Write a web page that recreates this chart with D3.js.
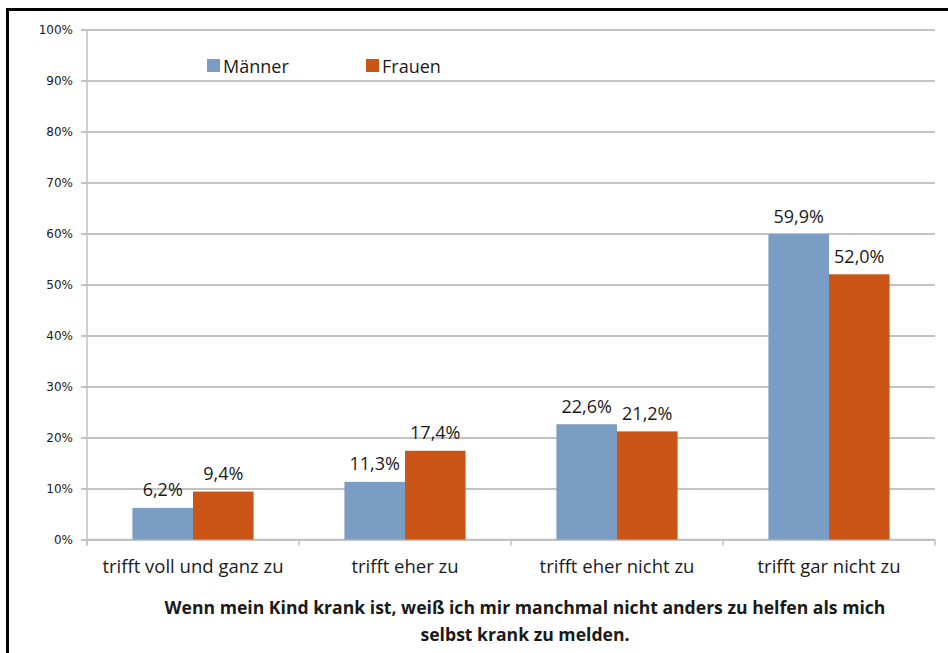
<!DOCTYPE html>
<html>
<head>
<meta charset="utf-8">
<script src="https://cdn.jsdelivr.net/npm/d3@7"></script>
<style>
  html, body { margin: 0; padding: 0; background: #fff; }
  svg { display: block; }
  text { fill: #1a1a1a; }
  .sans { font-family: "Open Sans", Lato, sans-serif; }
  .axis-lab { font-family: "DejaVu Sans", Verdana, sans-serif; }
</style>
</head>
<body>
<script>
// Answer categories and shares (percent) per group
const categories = ["trifft voll und ganz zu", "trifft eher zu", "trifft eher nicht zu", "trifft gar nicht zu"];
const series = ["Männer", "Frauen"];
const maenner = [6.2, 11.3, 22.6, 59.9];
const frauen = [9.4, 17.4, 21.2, 52.0];
const yTicks = [0, 10, 20, 30, 40, 50, 60, 70, 80, 90, 100];
const titleLines = [
  "Wenn mein Kind krank ist, weiß ich mir manchmal nicht anders zu helfen als mich",
  "selbst krank zu melden."
];
const colors = { "Männer": "#7b9cc3", "Frauen": "#cb5517" };

const W = 948, H = 653;
const plot = { left: 87, right: 935, top: 29.5, bottom: 539.5 };

const svg = d3.select("body").append("svg").attr("width", W).attr("height", H);

// Outer frame (right and bottom edges run past the page)
svg.append("rect")
  .attr("x", 7.5).attr("y", 9.5)
  .attr("width", 960).attr("height", 660)
  .attr("fill", "none").attr("stroke", "#000").attr("stroke-width", 3);

const x0 = d3.scaleBand().domain(categories).range([plot.left, plot.right]).paddingInner(0).paddingOuter(0);
const x1 = d3.scaleBand().domain(series).range([0, x0.bandwidth()]).paddingInner(0).paddingOuter(0.75);
const y = d3.scaleLinear().domain([0, 100]).range([plot.bottom, plot.top]);

// Horizontal gridlines with short tick marks left of the axis
const yAxis = d3.axisLeft(y).tickValues(yTicks).tickFormat(d => d + "%").tickSize(-(plot.right - plot.left)).tickPadding(14);
const gy = svg.append("g").attr("transform", `translate(${plot.left},0)`).call(yAxis);
gy.select(".domain").remove();
gy.selectAll(".tick line").attr("stroke", "#878787").attr("x1", -6);
gy.selectAll(".tick text")
  .attr("class", "axis-lab")
  .style("font-size", "12px").attr("fill", "#1a1a1a");

// Vertical axis line
svg.append("line")
  .attr("x1", plot.left).attr("x2", plot.left)
  .attr("y1", plot.top).attr("y2", plot.bottom + 6)
  .attr("stroke", "#bfbfbf").attr("stroke-width", 1.5);

// Baseline in light grey
svg.append("line")
  .attr("x1", plot.left).attr("x2", plot.right)
  .attr("y1", plot.bottom).attr("y2", plot.bottom)
  .attr("stroke", "#bfbfbf").attr("stroke-width", 1.5);

// Category separators below the baseline
const sepXs = categories.map(c => x0(c)).concat([plot.right]);
svg.selectAll("line.sep").data(sepXs).join("line")
  .attr("class", "sep")
  .attr("x1", d => d).attr("x2", d => d)
  .attr("y1", plot.bottom).attr("y2", plot.bottom + 6)
  .attr("stroke", "#bfbfbf").attr("stroke-width", 1.5);

// Bars
const rows = categories.map((c, i) => ({ cat: c, vals: [
  { s: "Männer", v: maenner[i] },
  { s: "Frauen", v: frauen[i] }
]}));

const groups = svg.selectAll("g.cat").data(rows).join("g")
  .attr("class", "cat")
  .attr("transform", d => `translate(${x0(d.cat)},0)`);

groups.selectAll("rect").data(d => d.vals).join("rect")
  .attr("x", d => x1(d.s))
  .attr("y", d => y(d.v))
  .attr("width", x1.bandwidth())
  .attr("height", d => y(0) - y(d.v))
  .attr("fill", d => colors[d.s]);

groups.selectAll("text.val").data(d => d.vals).join("text")
  .attr("class", "val sans")
  .attr("x", d => x1(d.s) + x1.bandwidth() / 2)
  .attr("y", d => y(d.v) - 11.5)
  .attr("text-anchor", "middle")
  .style("font-size", "18px")
  .text(d => d.v.toFixed(1).replace(".", ",") + "%");

// Category labels
svg.selectAll("text.catlab").data(categories).join("text")
  .attr("class", "catlab sans")
  .attr("x", d => x0(d) + x0.bandwidth() / 2)
  .attr("y", 573)
  .attr("text-anchor", "middle")
  .style("font-size", "18.5px")
  .text(d => d);

// Legend
const legendX = [207, 366];
const lg = svg.selectAll("g.legend").data(series).join("g")
  .attr("class", "legend")
  .attr("transform", (d, i) => `translate(${legendX[i]},59)`);
lg.append("rect").attr("width", 13).attr("height", 13).attr("fill", d => colors[d]);
lg.append("text").attr("class", "sans").attr("x", 16).attr("y", 13.5).style("font-size", "18px").text(d => d);

// Title under the chart
svg.selectAll("text.title").data(titleLines).join("text")
  .attr("class", "title sans")
  .attr("x", 525)
  .attr("y", (d, i) => 614 + i * 27)
  .attr("text-anchor", "middle")
  .style("font-size", "17.6px")
  .style("font-weight", "bold")
  .text(d => d);
</script>
</body>
</html>
